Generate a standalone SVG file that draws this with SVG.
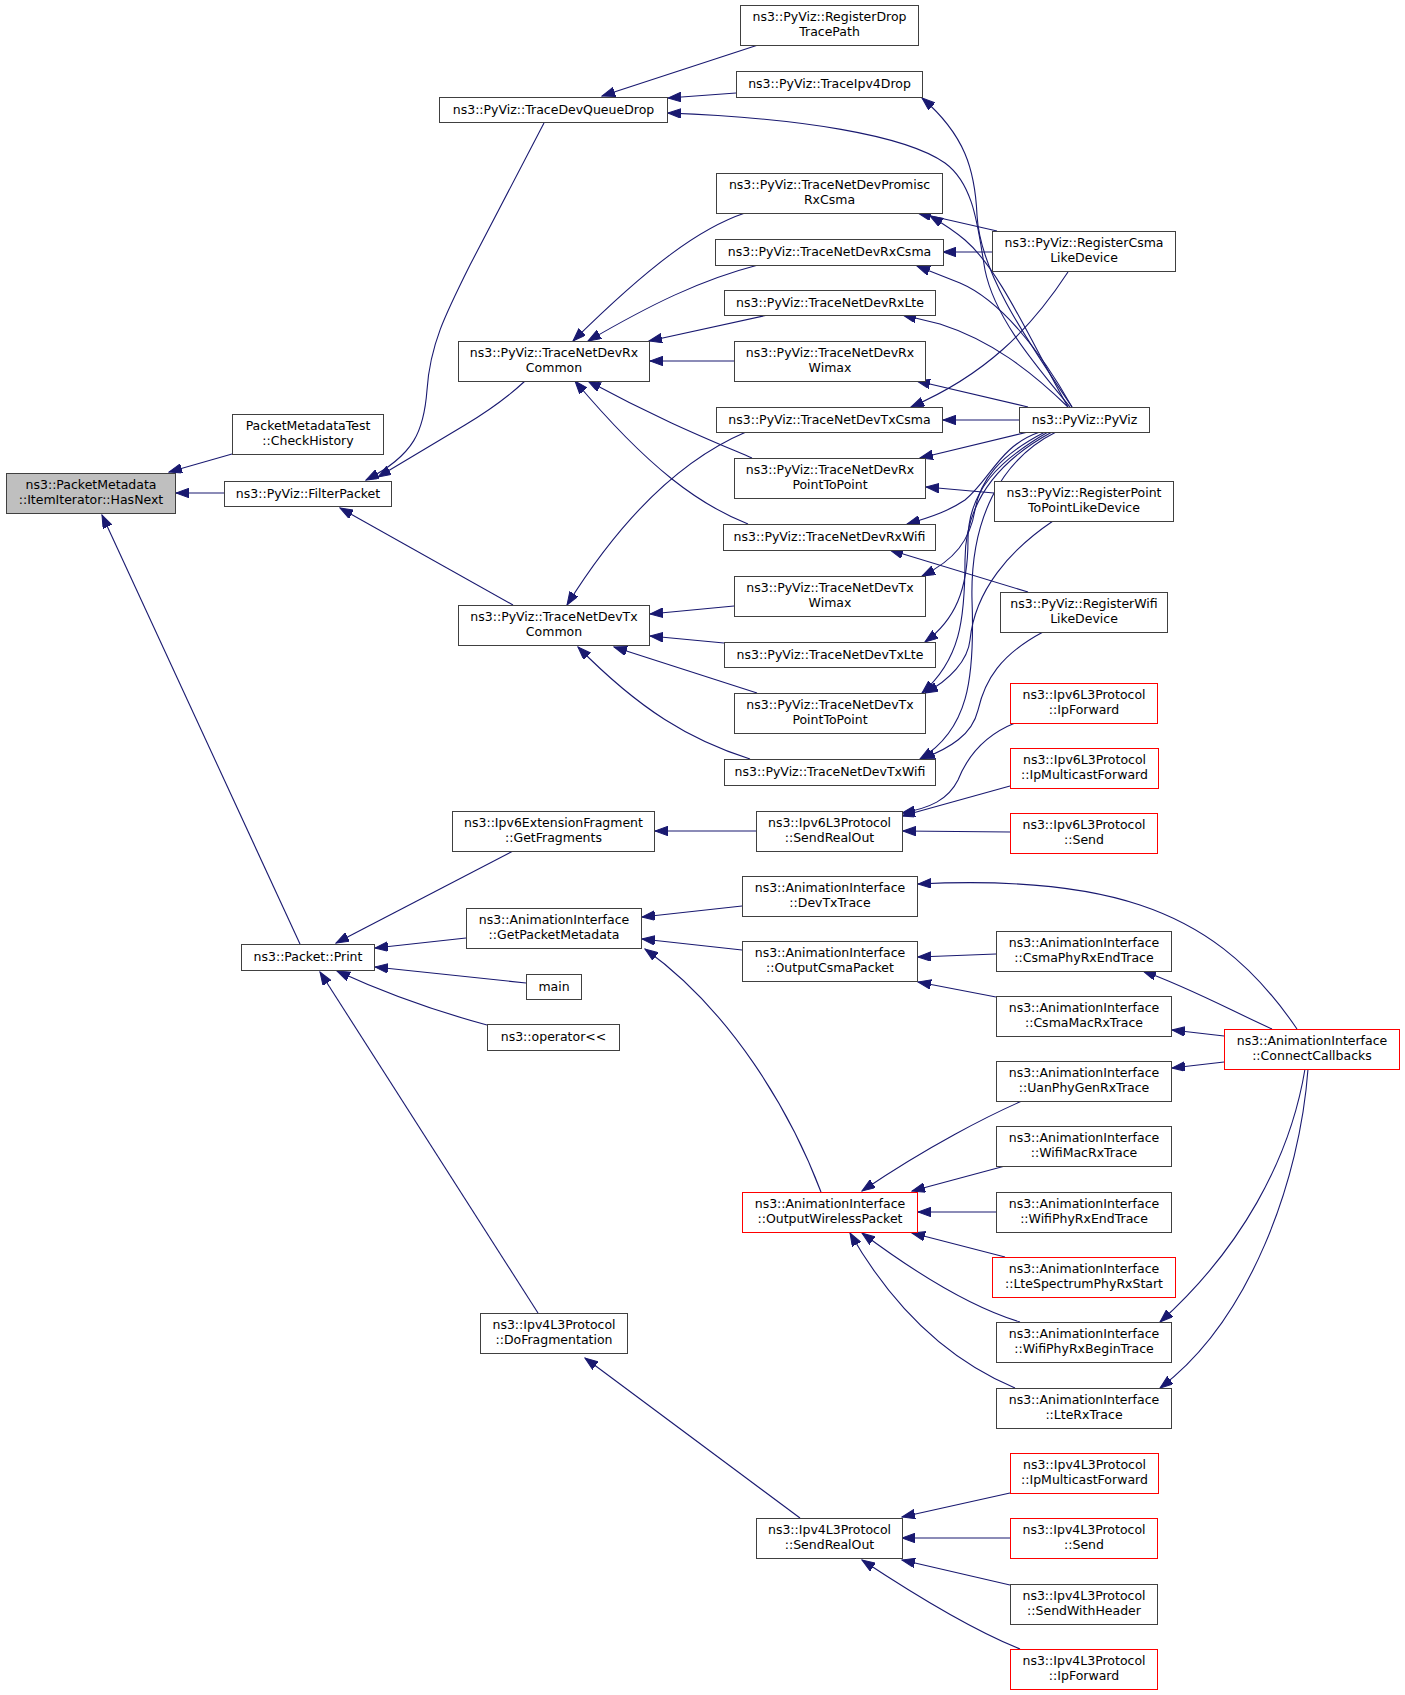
<svg xmlns="http://www.w3.org/2000/svg" width="1405" height="1695" viewBox="0 0 1405 1695">
<style>
rect{fill:#fff;stroke:#404040;stroke-width:1}
.r rect{stroke:#ff0000}
.g rect{fill:#bfbfbf}
text{font-family:"DejaVu Sans","Liberation Sans",sans-serif;font-size:12.5px;text-anchor:middle;fill:#000}
#edges path{fill:none;stroke:#191970;stroke-width:1.1;marker-end:url(#a)}
</style>
<defs>
<marker id="a" markerWidth="14" markerHeight="10" refX="13" refY="4.75" orient="auto" markerUnits="userSpaceOnUse">
<path d="M0,0 L13,4.75 L0,9.5 z" fill="#191970" stroke="#191970" stroke-width="1"/>
</marker>
</defs>
<rect x="0" y="0" width="1405" height="1695" style="fill:#fff;stroke:none"/>
<g id="edges">
<path d="M232,454 L169,472"/>
<path d="M224,493 L176,493"/>
<path d="M300,944 L102,515"/>
<path d="M544,123 L470,265 C445,315 430,345 427,390 C424,430 415,455 366,480"/>
<path d="M525,381 C510,395 490,410 465,425 L378,477"/>
<path d="M758,45 L602,96"/>
<path d="M736,93 L668,98"/>
<path d="M1070,407 C1040,370 995,320 985,270 C978,230 975,185 945,163 C905,135 800,118 668,113"/>
<path d="M1072,407 C1020,330 980,270 977,215 C975,170 965,135 922,98"/>
<path d="M1068,407 C1030,340 1000,270 965,240 C952,229 942,223 930,216"/>
<path d="M997,231 L918,213"/>
<path d="M992,252 L943,252"/>
<path d="M1072,407 C1040,350 1000,300 960,283 L917,266"/>
<path d="M1068,407 C1030,370 990,340 940,324 L903,315"/>
<path d="M1028,407 L917,381"/>
<path d="M1019,420 L943,420"/>
<path d="M1068,272 C1030,330 985,375 911,407"/>
<path d="M1028,432 L920,458"/>
<path d="M994,493 L926,487"/>
<path d="M1040,432 C1000,445 990,480 965,500 C950,510 935,516 907,524"/>
<path d="M1028,592 L890,550"/>
<path d="M1045,432 C1000,455 980,480 975,510 C970,540 955,560 922,576"/>
<path d="M1048,432 C1000,460 968,490 968,540 C968,590 955,620 925,642"/>
<path d="M1052,432 C1000,460 965,500 965,560 C965,620 960,660 922,693"/>
<path d="M1053,521 C1010,550 975,590 970,640 C968,660 950,680 925,693"/>
<path d="M1056,432 C1000,460 970,520 972,600 C975,680 968,730 920,759"/>
<path d="M1043,632 C1000,655 985,680 978,710 C972,735 950,748 922,759"/>
<path d="M745,213 C700,228 650,265 573,341"/>
<path d="M758,265 C700,280 650,305 588,341"/>
<path d="M768,315 L649,341"/>
<path d="M734,361 L650,361"/>
<path d="M752,458 C710,440 660,420 588,381"/>
<path d="M748,524 C700,505 650,470 575,381"/>
<path d="M746,432 C680,460 620,520 567,605"/>
<path d="M734,606 L650,614"/>
<path d="M724,643 L650,636"/>
<path d="M757,693 L614,647"/>
<path d="M750,759 C690,740 640,710 578,647"/>
<path d="M513,605 L340,508"/>
<path d="M756,831 L655,831"/>
<path d="M1015,723 C985,735 968,755 958,780 C948,800 930,808 902,813"/>
<path d="M1010,786 L902,816"/>
<path d="M1010,832 L903,831"/>
<path d="M513,851 L336,943"/>
<path d="M466,938 L375,948"/>
<path d="M526,983 L375,967"/>
<path d="M487,1025 C450,1015 400,1000 337,971"/>
<path d="M538,1313 L320,972"/>
<path d="M742,906 L642,917"/>
<path d="M742,950 L642,939"/>
<path d="M821,1192 C790,1110 730,1010 645,949"/>
<path d="M1297,1029 C1250,960 1200,925 1140,905 C1080,885 1000,880 918,884"/>
<path d="M996,954 L918,957"/>
<path d="M996,997 L918,982"/>
<path d="M1272,1029 C1230,1010 1190,988 1143,971"/>
<path d="M1224,1036 L1172,1030"/>
<path d="M1224,1062 L1172,1068"/>
<path d="M1305,1069 C1290,1160 1240,1250 1160,1322"/>
<path d="M1308,1069 C1300,1180 1250,1320 1160,1388"/>
<path d="M1022,1101 C990,1115 930,1145 862,1191"/>
<path d="M1005,1166 L912,1191"/>
<path d="M996,1212 L918,1212"/>
<path d="M1005,1257 L912,1233"/>
<path d="M1020,1322 C980,1310 925,1280 862,1233"/>
<path d="M1015,1388 C960,1365 900,1320 850,1233"/>
<path d="M800,1518 L585,1358"/>
<path d="M1010,1493 L902,1517"/>
<path d="M1010,1538 L902,1538"/>
<path d="M1010,1585 L902,1560"/>
<path d="M1020,1649 C985,1635 930,1605 862,1560"/>
</g>
<g id="n_hasnext" class="g"><rect x="6.5" y="473.5" width="169" height="40"/><text x="91" y="489">ns3::PacketMetadata</text><text x="91" y="504">::ItemIterator::HasNext</text></g>
<g id="n_checkhistory"><rect x="232.5" y="414.5" width="151" height="40"/><text x="308" y="430">PacketMetadataTest</text><text x="308" y="445">::CheckHistory</text></g>
<g id="n_filterpacket"><rect x="224.5" y="481.5" width="167" height="25"/><text x="308" y="497.5">ns3::PyViz::FilterPacket</text></g>
<g id="n_print"><rect x="241.5" y="944.5" width="133" height="26"/><text x="308" y="961">ns3::Packet::Print</text></g>
<g id="n_tracedevqueuedrop"><rect x="439.5" y="97.5" width="228" height="25"/><text x="553.5" y="113.5">ns3::PyViz::TraceDevQueueDrop</text></g>
<g id="n_rxcommon"><rect x="458.5" y="341.5" width="191" height="40"/><text x="554" y="357">ns3::PyViz::TraceNetDevRx</text><text x="554" y="372">Common</text></g>
<g id="n_txcommon"><rect x="458.5" y="605.5" width="191" height="40"/><text x="554" y="621">ns3::PyViz::TraceNetDevTx</text><text x="554" y="636">Common</text></g>
<g id="n_getfragments"><rect x="452.5" y="811.5" width="202" height="40"/><text x="553.5" y="827">ns3::Ipv6ExtensionFragment</text><text x="553.5" y="842">::GetFragments</text></g>
<g id="n_getpacketmetadata"><rect x="466.5" y="908.5" width="175" height="40"/><text x="554" y="924">ns3::AnimationInterface</text><text x="554" y="939">::GetPacketMetadata</text></g>
<g id="n_main"><rect x="526.5" y="974.5" width="55" height="25"/><text x="554" y="990.5">main</text></g>
<g id="n_operator"><rect x="487.5" y="1024.5" width="132" height="26"/><text x="553.5" y="1041">ns3::operator&lt;&lt;</text></g>
<g id="n_dofragmentation"><rect x="480.5" y="1313.5" width="147" height="40"/><text x="554" y="1329">ns3::Ipv4L3Protocol</text><text x="554" y="1344">::DoFragmentation</text></g>
<g id="n_registerdroptracepath"><rect x="740.5" y="5.5" width="178" height="40"/><text x="829.5" y="21">ns3::PyViz::RegisterDrop</text><text x="829.5" y="36">TracePath</text></g>
<g id="n_traceipv4drop"><rect x="736.5" y="71.5" width="186" height="26"/><text x="829.5" y="88">ns3::PyViz::TraceIpv4Drop</text></g>
<g id="n_promiscrxcsma"><rect x="716.5" y="173.5" width="226" height="40"/><text x="829.5" y="189">ns3::PyViz::TraceNetDevPromisc</text><text x="829.5" y="204">RxCsma</text></g>
<g id="n_rxcsma"><rect x="715.5" y="239.5" width="228" height="26"/><text x="829.5" y="256">ns3::PyViz::TraceNetDevRxCsma</text></g>
<g id="n_rxlte"><rect x="724.5" y="290.5" width="211" height="25"/><text x="830" y="306.5">ns3::PyViz::TraceNetDevRxLte</text></g>
<g id="n_rxwimax"><rect x="734.5" y="341.5" width="191" height="40"/><text x="830" y="357">ns3::PyViz::TraceNetDevRx</text><text x="830" y="372">Wimax</text></g>
<g id="n_txcsma"><rect x="716.5" y="407.5" width="226" height="25"/><text x="829.5" y="423.5">ns3::PyViz::TraceNetDevTxCsma</text></g>
<g id="n_rxp2p"><rect x="734.5" y="458.5" width="191" height="40"/><text x="830" y="474">ns3::PyViz::TraceNetDevRx</text><text x="830" y="489">PointToPoint</text></g>
<g id="n_rxwifi"><rect x="723.5" y="524.5" width="212" height="26"/><text x="829.5" y="541">ns3::PyViz::TraceNetDevRxWifi</text></g>
<g id="n_txwimax"><rect x="734.5" y="576.5" width="191" height="40"/><text x="830" y="592">ns3::PyViz::TraceNetDevTx</text><text x="830" y="607">Wimax</text></g>
<g id="n_txlte"><rect x="724.5" y="642.5" width="211" height="25"/><text x="830" y="658.5">ns3::PyViz::TraceNetDevTxLte</text></g>
<g id="n_txp2p"><rect x="734.5" y="693.5" width="191" height="40"/><text x="830" y="709">ns3::PyViz::TraceNetDevTx</text><text x="830" y="724">PointToPoint</text></g>
<g id="n_txwifi"><rect x="724.5" y="759.5" width="211" height="26"/><text x="830" y="776">ns3::PyViz::TraceNetDevTxWifi</text></g>
<g id="n_ipv6sendrealout"><rect x="756.5" y="811.5" width="146" height="40"/><text x="829.5" y="827">ns3::Ipv6L3Protocol</text><text x="829.5" y="842">::SendRealOut</text></g>
<g id="n_devtxtrace"><rect x="742.5" y="876.5" width="175" height="40"/><text x="830" y="892">ns3::AnimationInterface</text><text x="830" y="907">::DevTxTrace</text></g>
<g id="n_outputcsmapacket"><rect x="742.5" y="941.5" width="175" height="40"/><text x="830" y="957">ns3::AnimationInterface</text><text x="830" y="972">::OutputCsmaPacket</text></g>
<g id="n_outputwirelesspacket" class="r"><rect x="742.5" y="1192.5" width="175" height="40"/><text x="830" y="1208">ns3::AnimationInterface</text><text x="830" y="1223">::OutputWirelessPacket</text></g>
<g id="n_ipv4sendrealout"><rect x="756.5" y="1518.5" width="146" height="40"/><text x="829.5" y="1534">ns3::Ipv4L3Protocol</text><text x="829.5" y="1549">::SendRealOut</text></g>
<g id="n_registercsma"><rect x="992.5" y="231.5" width="183" height="40"/><text x="1084" y="247">ns3::PyViz::RegisterCsma</text><text x="1084" y="262">LikeDevice</text></g>
<g id="n_pyviz"><rect x="1019.5" y="407.5" width="130" height="25"/><text x="1084.5" y="423.5">ns3::PyViz::PyViz</text></g>
<g id="n_registerp2p"><rect x="994.5" y="481.5" width="179" height="40"/><text x="1084" y="497">ns3::PyViz::RegisterPoint</text><text x="1084" y="512">ToPointLikeDevice</text></g>
<g id="n_registerwifi"><rect x="1000.5" y="592.5" width="167" height="40"/><text x="1084" y="608">ns3::PyViz::RegisterWifi</text><text x="1084" y="623">LikeDevice</text></g>
<g id="n_ipv6ipforward" class="r"><rect x="1010.5" y="683.5" width="147" height="40"/><text x="1084" y="699">ns3::Ipv6L3Protocol</text><text x="1084" y="714">::IpForward</text></g>
<g id="n_ipv6ipmulticastforward" class="r"><rect x="1010.5" y="748.5" width="148" height="40"/><text x="1084.5" y="764">ns3::Ipv6L3Protocol</text><text x="1084.5" y="779">::IpMulticastForward</text></g>
<g id="n_ipv6send" class="r"><rect x="1010.5" y="813.5" width="147" height="40"/><text x="1084" y="829">ns3::Ipv6L3Protocol</text><text x="1084" y="844">::Send</text></g>
<g id="n_csmaphyrxendtrace"><rect x="996.5" y="931.5" width="175" height="40"/><text x="1084" y="947">ns3::AnimationInterface</text><text x="1084" y="962">::CsmaPhyRxEndTrace</text></g>
<g id="n_csmamacrxtrace"><rect x="996.5" y="996.5" width="175" height="40"/><text x="1084" y="1012">ns3::AnimationInterface</text><text x="1084" y="1027">::CsmaMacRxTrace</text></g>
<g id="n_uanphygenrxtrace"><rect x="996.5" y="1061.5" width="175" height="40"/><text x="1084" y="1077">ns3::AnimationInterface</text><text x="1084" y="1092">::UanPhyGenRxTrace</text></g>
<g id="n_wifimacrxtrace"><rect x="996.5" y="1126.5" width="175" height="40"/><text x="1084" y="1142">ns3::AnimationInterface</text><text x="1084" y="1157">::WifiMacRxTrace</text></g>
<g id="n_wifiphyrxendtrace"><rect x="996.5" y="1192.5" width="175" height="40"/><text x="1084" y="1208">ns3::AnimationInterface</text><text x="1084" y="1223">::WifiPhyRxEndTrace</text></g>
<g id="n_ltespectrumphyrxstart" class="r"><rect x="992.5" y="1257.5" width="183" height="40"/><text x="1084" y="1273">ns3::AnimationInterface</text><text x="1084" y="1288">::LteSpectrumPhyRxStart</text></g>
<g id="n_wifiphyrxbegintrace"><rect x="996.5" y="1322.5" width="175" height="40"/><text x="1084" y="1338">ns3::AnimationInterface</text><text x="1084" y="1353">::WifiPhyRxBeginTrace</text></g>
<g id="n_lterxtrace"><rect x="996.5" y="1388.5" width="175" height="40"/><text x="1084" y="1404">ns3::AnimationInterface</text><text x="1084" y="1419">::LteRxTrace</text></g>
<g id="n_ipv4ipmulticastforward" class="r"><rect x="1010.5" y="1453.5" width="148" height="40"/><text x="1084.5" y="1469">ns3::Ipv4L3Protocol</text><text x="1084.5" y="1484">::IpMulticastForward</text></g>
<g id="n_ipv4send" class="r"><rect x="1010.5" y="1518.5" width="147" height="40"/><text x="1084" y="1534">ns3::Ipv4L3Protocol</text><text x="1084" y="1549">::Send</text></g>
<g id="n_ipv4sendwithheader"><rect x="1010.5" y="1584.5" width="147" height="40"/><text x="1084" y="1600">ns3::Ipv4L3Protocol</text><text x="1084" y="1615">::SendWithHeader</text></g>
<g id="n_ipv4ipforward" class="r"><rect x="1010.5" y="1649.5" width="147" height="40"/><text x="1084" y="1665">ns3::Ipv4L3Protocol</text><text x="1084" y="1680">::IpForward</text></g>
<g id="n_connectcallbacks" class="r"><rect x="1224.5" y="1029.5" width="175" height="40"/><text x="1312" y="1045">ns3::AnimationInterface</text><text x="1312" y="1060">::ConnectCallbacks</text></g>
</svg>
